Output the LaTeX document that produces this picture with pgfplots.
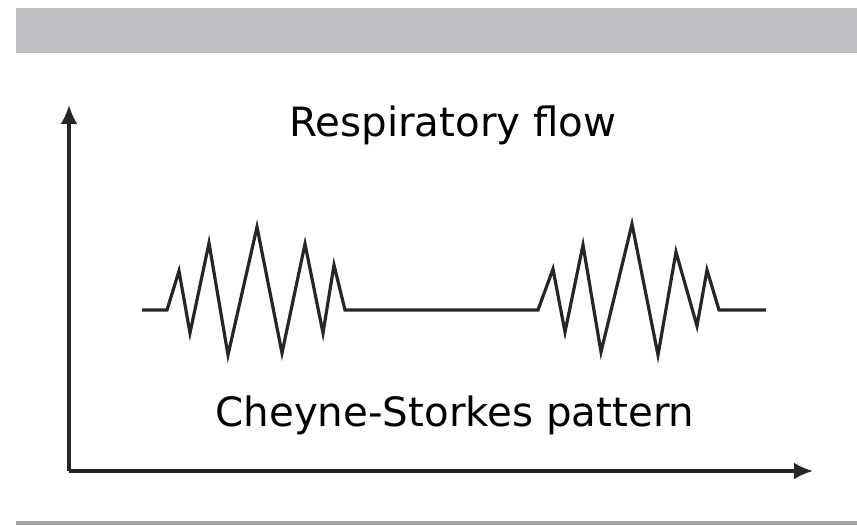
\documentclass[border=0pt]{standalone}
\usepackage{pgfplots}
\pgfplotsset{compat=1.18}
\usetikzlibrary{arrows.meta}
\usepackage{fontspec}
\setmainfont{DejaVu Sans}

\definecolor{bandgrey}{HTML}{BEBFC3}
\definecolor{rulegrey}{HTML}{A2A3A8}
\definecolor{ink}{HTML}{262626}

\pgfplotsset{
    every non boxed x axis/.style={},
    every non boxed y axis/.style={},
}

\begin{document}
\begin{tikzpicture}
\begin{axis}[
    x=1bp, y=1bp,
    xmin=69, xmax=813,
    ymin=54, ymax=420,
    axis lines=left,
    axis line style={ink, line width=3.2bp, -{Latex[length=19bp,width=17bp]}},
    ticks=none,
    clip=false,
]
% page frame (857 x 525)
\addplot[draw=none] coordinates {(0,0)(857,525)};
% grey band at the top and rule at the bottom
\addplot[fill=bandgrey, draw=none] coordinates {(16,472)(857,472)(857,517)(16,517)} -- cycle;
\addplot[fill=rulegrey, draw=none] coordinates {(16,0)(857,0)(857,4)(16,4)} -- cycle;

% respiratory flow trace
\addplot[ink, line width=3.2bp, line join=miter] coordinates {
    (142,215)(167,215)(179,254)(190,192)(209,282)(228,170)(257,298)(282,172)
    (305,281)(323,192)(334,260)(345,215)
    (538,215)(553,256)(565,193)(583,280)(601,173)(632,301)(658,170)(676,273)
    (697,199)(707,255)(719,215)(766,215)
};

\node[anchor=base, font=\fontsize{40.5}{48}\selectfont] at (axis cs:453,388) {Respiratory flow};
\node[anchor=base, font=\fontsize{40.5}{48}\selectfont] at (axis cs:455,98) {Cheyne-Storkes pattern};
\end{axis}
\end{tikzpicture}
\end{document}
